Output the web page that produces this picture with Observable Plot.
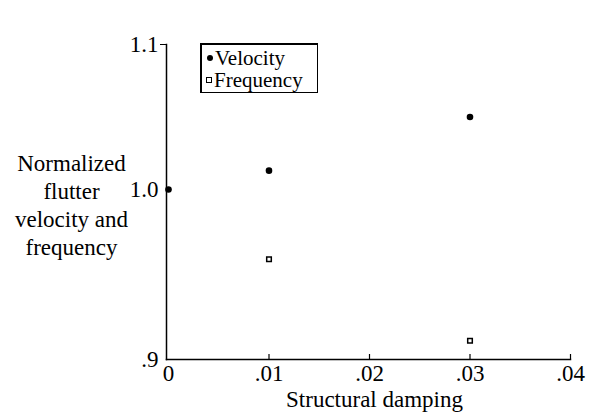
<!DOCTYPE html>
<html>
<head>
<meta charset="utf-8">
<script src="https://cdn.jsdelivr.net/npm/d3@7"></script>
<script src="https://cdn.jsdelivr.net/npm/@observablehq/plot@0.6"></script>
<style>
  html, body { margin: 0; padding: 0; background: #fff; }
  #wrap { position: relative; width: 596px; height: 419px; font-family: "Liberation Serif", "DejaVu Serif", serif; }
  #legend { position: absolute; left: 200px; top: 43px; width: 118px; height: 50px;
    border: 1.5px solid #000; border-left-width: 2px; border-top-width: 2px; background: #fff;
    font-size: 21px; line-height: 22px; color: #000; box-sizing: border-box; padding: 2px 0 0 4px; }
  #legend .row { display: flex; align-items: center; white-space: nowrap; height: 22px; }
  #legend .dot { width: 6px; height: 6px; border-radius: 50%; background: #000; margin-right: 2px; margin-left: 1px; }
  #legend .sq { width: 4px; height: 4px; border: 1.5px solid #000; margin-right: 2px; }
</style>
</head>
<body>
<div id="wrap">
  <div id="chart"></div>
  <div id="legend">
    <div class="row"><span class="dot"></span><span>Velocity</span></div>
    <div class="row"><span class="sq"></span><span>Frequency</span></div>
  </div>
</div>
<script>
// Data
const damping = [0, 0.01, 0.03];
const velocity = [1.0, 1.013, 1.05];
const freqDamping = [0.01, 0.03];
const frequency = [0.959, 0.911];
const xTicks = [0, 0.01, 0.02, 0.03, 0.04];
const xTickLabels = ["0", ".01", ".02", ".03", ".04"];
const yTicks = [0.9, 1.0, 1.1];
const yTickLabels = [".9", "1.0", "1.1"];
const xTitle = "Structural damping";
const yTitle = "Normalized\nflutter\nvelocity and\nfrequency";

const velData = damping.map((d, i) => ({x: d, y: velocity[i]}));
const freqData = freqDamping.map((d, i) => ({x: d, y: frequency[i]}));

// The original axis is drawn with an uneven spacing above 1.0 (piecewise linear)
const warp = d3.scaleLinear().domain([0.9, 1.0, 1.1]).range([0.9, 1.0, 1.0853]);

const chart = Plot.plot({
  width: 596,
  height: 419,
  marginLeft: 166,
  marginRight: 26,
  marginTop: 44,
  marginBottom: 60,
  style: {fontFamily: "Liberation Serif, serif", fontSize: "23px", color: "#000", background: "#fff", overflow: "visible"},
  x: {domain: [0, 0.04], range: [168, 570]},
  y: {transform: warp, domain: [0.9, 1.0853], range: [359, 44]},
  marks: [
    Plot.frame({anchor: "left", stroke: "#000", strokeWidth: 1.5}),
    Plot.frame({anchor: "bottom", stroke: "#000", strokeWidth: 1.5}),
    Plot.axisX(xTicks, {tickSize: 0, tickPadding: 5, tickFormat: (d, i) => xTickLabels[i], fontSize: 23, label: null}),
    Plot.axisX(xTicks.slice(1), {tickSize: 5, dy: -5, stroke: "#000", strokeWidth: 1.2, tickFormat: () => "", label: null}),
    Plot.axisY(yTicks, {tickSize: 0, tickPadding: 8, tickFormat: (d, i) => yTickLabels[i], fontSize: 23, label: null}),
    Plot.axisY([1.1], {tickSize: 6, stroke: "#000", tickFormat: () => "", label: null}),
    Plot.text([xTitle], {frameAnchor: "bottom", x: () => 0.0205, dy: 47, fontSize: 23, fill: "#000"}),
    Plot.text([yTitle], {frameAnchor: "left", dx: -95, dy: 2, fontSize: 23, lineHeight: 1.22, fill: "#000", textAnchor: "middle"}),
    Plot.dot(velData, {x: "x", y: "y", r: 3.3, fill: "#000", stroke: "none"}),
    Plot.dot(freqData, {x: "x", y: "y", symbol: "square", r: 2.6, fill: "#fff", stroke: "#000", strokeWidth: 1.5})
  ]
});
document.getElementById("chart").appendChild(chart);
</script>
</body>
</html>
